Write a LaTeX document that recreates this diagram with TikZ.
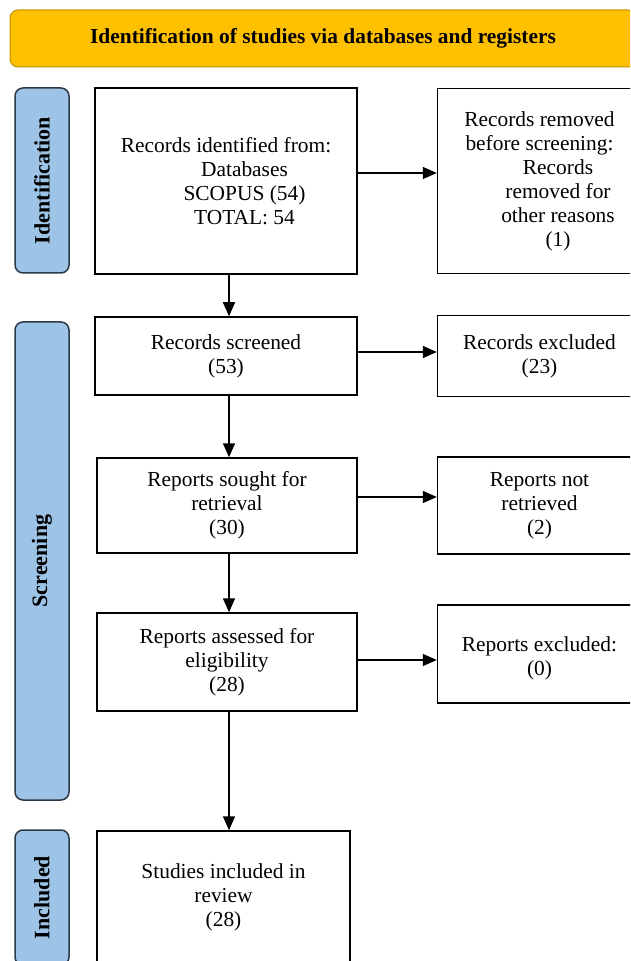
\documentclass[tikz,border=0pt]{standalone}
\usepackage{fontspec}
\setmainfont{Liberation Serif}
\usetikzlibrary{arrows.meta,positioning}
\definecolor{headfill}{HTML}{FFC000}
\definecolor{headline}{HTML}{BF9000}
\definecolor{sidefill}{HTML}{9DC3E6}
\definecolor{sideline}{HTML}{2B3A48}
\newcommand{\ind}{\hspace*{18.5pt}}% indent of the inner lines

\begin{document}
\begin{tikzpicture}[
x=0.5pt, y=-0.5pt,
  box/.style = {rectangle, draw, line width=0.75pt, align=center,% boxes of the flow
                font=\fontsize{10.7}{12}\selectfont, inner sep=2pt},
 side/.style = {rectangle, rounded corners=4pt, draw=sideline, fill=sidefill,
                line width=0.75pt, rotate=90, minimum height=27pt,
                font=\fontsize{11}{13}\selectfont\bfseries},
  arr/.style = {line width=0.75pt, -{Triangle[length=7pt,width=6pt]}},
                    ]
\useasboundingbox (0,0) rectangle (630,961);
\clip (0,0) rectangle (630,961);
% header
\node (head) [rectangle, rounded corners=4pt, draw=headline, fill=headfill,
              line width=0.5pt, minimum width=313pt, minimum height=28.5pt,
              font=\fontsize{10.7}{12}\selectfont\bfseries]
      at (323,38.5) {Identification of studies via databases and registers};
% phase labels
\node (labid)  [side, minimum width=92.5pt] at (42,180.5) {Identification};
\node (labscr) [side, minimum width=239pt]  at (42,561)   {Screening};
\node (labinc) [side, minimum width=67.5pt] at (42,897.5) {Included};
% main column
\node (ident)    [box, minimum width=131pt, minimum height=93pt] at (226,181)
      {Records identified from:\\ \ind Databases\\ \ind SCOPUS (54)\\ \ind TOTAL: 54};
\node (screened) [box, minimum width=131pt, minimum height=39pt] at (226,356)
      {Records screened\\ (53)};
\node (sought)   [box, minimum width=130pt, minimum height=47.5pt] at (227,505.5)
      {Reports sought for\\ retrieval\\ (30)};
\node (assessed) [box, minimum width=130pt, minimum height=49pt] at (227,662)
      {Reports assessed for\\ eligibility\\ (28)};
\node (included) [box, minimum width=126.5pt, minimum height=66pt] at (223.5,897)
      {Studies included in\\ review\\ (28)};
% side column
\node (removed)  [box, minimum width=102pt, minimum height=92.5pt, right=39.5pt of ident]
      {Records removed\\ before screening:\\ \ind Records\\ \ind removed for\\ \ind other reasons\\ \ind (1)};
\node (excluded) [box, minimum width=102pt, minimum height=40.5pt, right=39.5pt of screened]
      {Records excluded\\ (23)};
\node (notretr)  [box, minimum width=102pt, minimum height=48.5pt, right=39.5pt of sought]
      {Reports not\\ retrieved\\ (2)};
\node (repexcl)  [box, minimum width=102pt, minimum height=49pt, right=39.5pt of assessed, yshift=4pt]
      {\mbox{}\\ Reports excluded:\\ (0)};
% arrows down
\draw[arr] ([xshift=1.5pt]ident.south) -- ([xshift=1.5pt]screened.north);
\draw[arr] ([xshift=1.5pt]screened.south) -- ([xshift=1pt]sought.north);
\draw[arr] ([xshift=1pt]sought.south) -- ([xshift=1pt]assessed.north);
\draw[arr] ([xshift=1pt]assessed.south) -- ([xshift=2.75pt]included.north);
% arrows right
\coordinate (a1) at ([yshift=4pt]ident.east);
\coordinate (a2) at ([yshift=2pt]screened.east);
\coordinate (a3) at ([yshift=4.25pt]sought.east);
\coordinate (a4) at ([yshift=1pt]assessed.east);
\draw[arr] (a1) -- (a1 -| removed.west);
\draw[arr] (a2) -- (a2 -| excluded.west);
\draw[arr] (a3) -- (a3 -| notretr.west);
\draw[arr] (a4) -- (a4 -| repexcl.west);
\end{tikzpicture}
\end{document}
